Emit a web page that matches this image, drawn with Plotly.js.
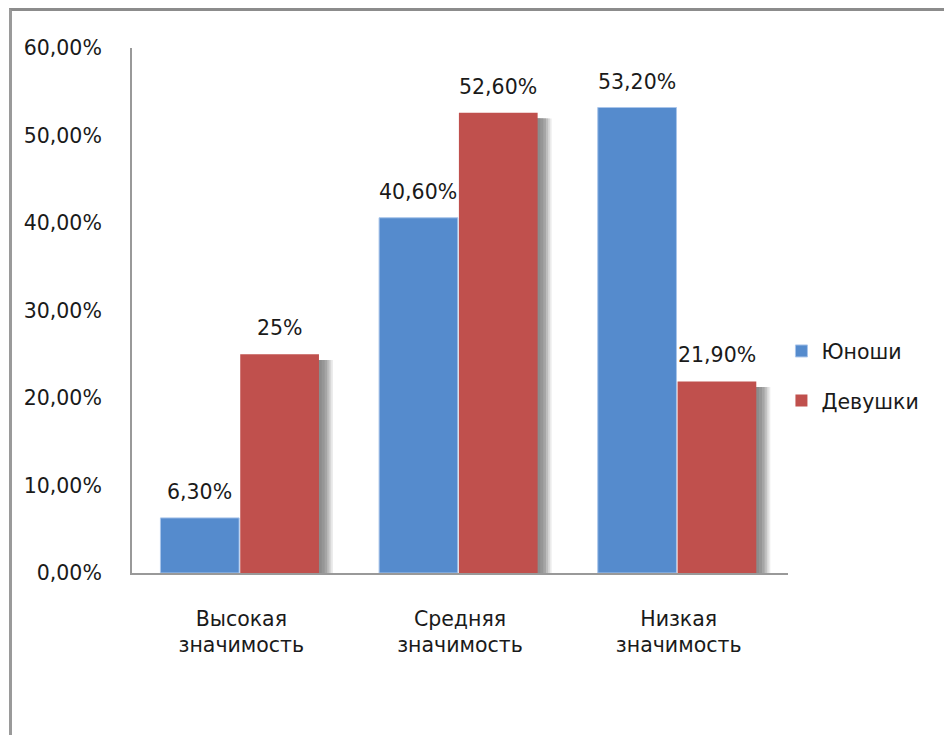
<!DOCTYPE html>
<html>
<head>
<meta charset="utf-8">
<script src="https://cdn.plot.ly/plotly-3.0.1.min.js"></script>
<style>
  html, body { margin: 0; padding: 0; background: #fff; }
  #frame { position: absolute; left: 9px; top: 8px; width: 940px; height: 740px;
           border-top: 3px solid #8c8c8c; border-left: 3px solid #9a9a9a; box-sizing: border-box; }
  #chart { position: absolute; left: 0; top: 0; width: 944px; height: 735px; }
</style>
</head>
<body>
<div id="frame"></div>
<div id="chart"></div>
<script>
const categories = ["Высокая<br>значимость", "Средняя<br>значимость", "Низкая<br>значимость"];
const seriesNames = ["Юноши", "Девушки"];
const boysValues = [6.3, 40.6, 53.2];
const girlsValues = [25, 52.6, 21.9];
const boysLabels = ["6,30%", "40,60%", "53,20%"];
const girlsLabels = ["25%", "52,60%", "21,90%"];
const tickValues = [0, 10, 20, 30, 40, 50, 60];
const tickLabels = ["0,00%", "10,00%", "20,00%", "30,00%", "40,00%", "50,00%", "60,00%"];

const FONT = "DejaVu Sans, sans-serif";
const FS = 20.5;
const TXT = "#1a1a1a";
const BW = 0.36, BLUE_OFF = -0.37, RED_OFF = -0.005;
const blue = "#558bcd", red = "#c0504d";

const shadowLayers = [
  {dx: 0.064, color: "rgb(235,235,235)"},
  {dx: 0.056, color: "rgb(215,215,215)"},
  {dx: 0.048, color: "rgb(190,190,190)"},
  {dx: 0.038, color: "rgb(165,165,165)"},
  {dx: 0.026, color: "rgb(150,150,150)"},
  {dx: 0.012, color: "rgb(140,140,140)"}
];
const traces = [];
shadowLayers.forEach(s => traces.push({
  type: "bar", x: categories, y: girlsValues, xaxis: "x", yaxis: "y",
  offset: RED_OFF + s.dx, width: BW, marker: {color: s.color},
  showlegend: false, hoverinfo: "skip"
}));
traces.push({
  type: "bar", name: seriesNames[0], x: categories, y: boysValues, xaxis: "x", yaxis: "y2",
  offset: BLUE_OFF, width: BW, marker: {color: blue, line: {color: "#a9c5ea", width: 1}},
  legendgroup: "a"
});
traces.push({
  type: "bar", name: seriesNames[1], x: categories, y: girlsValues, xaxis: "x", yaxis: "y2",
  offset: RED_OFF, width: BW, marker: {color: red},
  legendgroup: "b"
});

const annotations = [];
boysValues.forEach((v, i) => annotations.push({
  x: i + BLUE_OFF + BW / 2, y: v, xref: "x", yref: "y2", text: boysLabels[i],
  showarrow: false, yanchor: "bottom", yshift: 12, font: {family: FONT, size: FS, color: TXT}
}));
girlsValues.forEach((v, i) => annotations.push({
  x: i + RED_OFF + BW / 2, y: v, xref: "x", yref: "y2", text: girlsLabels[i],
  showarrow: false, yanchor: "bottom", yshift: 12, font: {family: FONT, size: FS, color: TXT}
}));

const layout = {
  width: 944, height: 735,
  margin: {l: 132, r: 156, t: 48, b: 162},
  paper_bgcolor: "rgba(0,0,0,0)", plot_bgcolor: "rgba(0,0,0,0)",
  barmode: "overlay",
  font: {family: FONT, size: FS, color: TXT},
  showlegend: true,
  legend: {x: 0.99, xanchor: "left", y: 0.375, yanchor: "middle", tracegroupgap: 20,
           font: {family: FONT, size: FS, color: TXT}, bgcolor: "rgba(0,0,0,0)"},
  xaxis: {type: "category", range: [-0.5, 2.5], showline: true, linecolor: "#999", linewidth: 2,
          ticks: "", showgrid: false, zeroline: false, ticklabelstandoff: 26,
          tickfont: {family: FONT, size: FS, color: TXT}},
  yaxis: {range: [0.65, 60.65], visible: false, showgrid: false, zeroline: false},
  yaxis2: {overlaying: "y", side: "left", range: [0, 60], tickvals: tickValues, ticktext: tickLabels,
           showline: true, linecolor: "#999", linewidth: 2, ticks: "", showgrid: false, zeroline: false,
           ticklabelstandoff: 24, tickfont: {family: FONT, size: FS, color: TXT}},
  annotations: annotations
};

Plotly.newPlot("chart", traces, layout, {displayModeBar: false, staticPlot: true});
</script>
</body>
</html>
